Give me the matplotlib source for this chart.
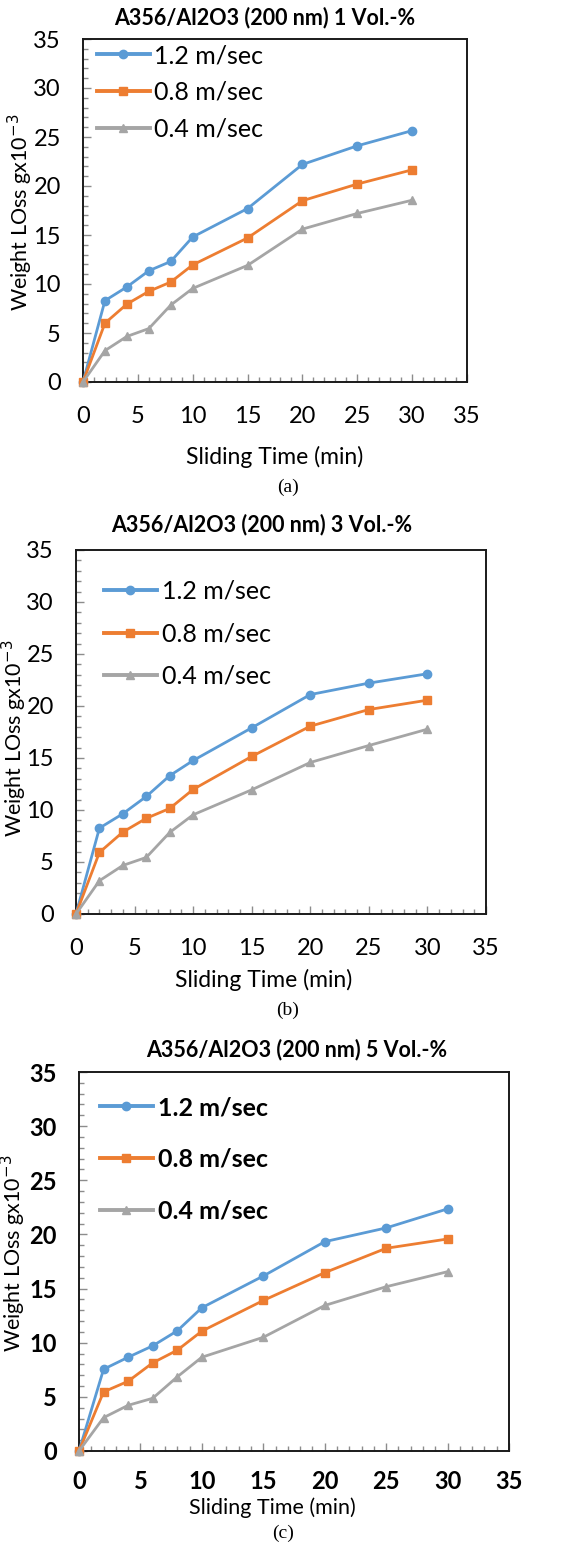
import matplotlib
matplotlib.use("Agg")
import matplotlib.pyplot as plt
from matplotlib.ticker import MultipleLocator

plt.rcParams['font.family'] = ['Lato', 'DejaVu Sans']

time_min = [0, 2, 4, 6, 8, 10, 15, 20, 25, 30]
speeds = ["1.2 m/sec", "0.8 m/sec", "0.4 m/sec"]

# Panel (a) 1 Vol.-%
a_12 = [0, 8.3, 9.7, 11.35, 12.3, 14.8, 17.7, 22.2, 24.1, 25.65]
a_08 = [0, 6.0, 7.95, 9.25, 10.2, 11.95, 14.7, 18.5, 20.2, 21.65]
a_04 = [0, 3.2, 4.65, 5.45, 7.85, 9.55, 11.9, 15.6, 17.2, 18.55]

# Panel (b) 3 Vol.-%
b_12 = [0, 8.26, 9.64, 11.3, 13.3, 14.76, 17.9, 21.1, 22.2, 23.1]
b_08 = [0, 5.92, 7.88, 9.2, 10.15, 11.98, 15.15, 18.06, 19.66, 20.56]
b_04 = [0, 3.2, 4.67, 5.44, 7.84, 9.54, 11.94, 14.57, 16.2, 17.77]

# Panel (c) 5 Vol.-%
c_12 = [0, 7.55, 8.66, 9.71, 11.1, 13.23, 16.16, 19.33, 20.6, 22.36]
c_08 = [0, 5.46, 6.44, 8.14, 9.31, 11.07, 13.9, 16.47, 18.72, 19.58]
c_04 = [0, 3.08, 4.22, 4.87, 6.85, 8.66, 10.5, 13.44, 15.17, 16.56]

titles = ["A356/Al2O3 (200 nm) 1 Vol.-%",
          "A356/Al2O3 (200 nm) 3 Vol.-%",
          "A356/Al2O3 (200 nm) 5 Vol.-%"]
sublabels = ["(a)", "(b)", "(c)"]

colors = ["#5B9BD5", "#ED7D31", "#A5A5A5"]
markers = ["o", "s", "^"]

W, H = 566, 1544
fig = plt.figure(figsize=(W / 100, H / 100), dpi=100)

def px_axes(l, t, r, b):
    return fig.add_axes([l / W, 1 - b / H, (r - l) / W, (b - t) / H])

def ftxt(x, y, s, **kw):
    fig.text(x / W, 1 - y / H, s, ha='center', va='center', **kw)

panels = [
    dict(box=(83, 39, 467, 382), data=(a_12, a_08, a_04), title=(265, 18),
         xlab=(275, 457), xls=16.5, xpad=17, ylab=(20, 212), sub=(288, 487),
         leg=(97, 44), lsp=0.55, bold=False),
    dict(box=(76, 550, 486, 914), data=(b_12, b_08, b_04), title=(262, 525),
         xlab=(264, 980), xls=16.5, xpad=17, ylab=(14, 738), sub=(288, 1010),
         leg=(104, 580), lsp=0.78, bold=False),
    dict(box=(79, 1072, 509, 1451), data=(c_12, c_08, c_04), title=(297, 1050),
         xlab=(272, 1508), xls=15.5, xpad=14, ylab=(13, 1253), sub=(283, 1533),
         leg=(100, 1096), lsp=1.15, bold=True),
]

for i, p in enumerate(panels):
    l, t, r, b = p['box']
    ax = px_axes(l, t, r, b)
    for series, lab, col, mk in zip(p['data'], speeds, colors, markers):
        ax.plot(time_min, series, color=col, marker=mk, markersize=6,
                linewidth=2.0, label=lab, clip_on=False, zorder=3)
    ax.set_xlim(0, 35)
    ax.set_ylim(0, 35)
    ax.xaxis.set_major_locator(MultipleLocator(5))
    ax.yaxis.set_major_locator(MultipleLocator(5))
    ax.xaxis.set_minor_locator(MultipleLocator(1))
    ax.yaxis.set_minor_locator(MultipleLocator(1))
    tw = 'bold' if p['bold'] else 'normal'
    ax.tick_params(which='major', direction='in', length=6, width=1.0, color='#8c8c8c',
                   labelsize=17, top=False, right=False)
    ax.tick_params(which='minor', direction='in', length=3.5, width=1.0, color='#8c8c8c',
                   top=False, right=False)
    ax.tick_params(axis='x', which='major', pad=p['xpad'])
    ax.tick_params(axis='y', which='major', pad=16)
    for lbl in ax.get_xticklabels() + ax.get_yticklabels():
        lbl.set_fontweight(tw)
    for sp in ax.spines.values():
        sp.set_color('#1a1a1a')
        sp.set_linewidth(1.4)
    lx, ly = p['leg']
    leg = ax.legend(loc='upper left',
                    bbox_to_anchor=((lx - l) / (r - l), 1 - (ly - t) / (b - t)),
                    frameon=False, handlelength=2.1, handletextpad=0.2,
                    borderpad=0, borderaxespad=0, labelspacing=p['lsp'],
                    prop=dict(size=18, weight=tw))
    for h in leg.get_lines():
        h.set_linewidth(2.8)
    ftxt(*p['title'], titles[i], fontsize=15.5, fontweight='bold')
    ftxt(*p['xlab'], "Sliding Time (min)", fontsize=p['xls'])
    ftxt(*p['ylab'], "Weight LOss gx10$^{-3}$", fontsize=15.5, rotation=90)
    ftxt(*p['sub'], sublabels[i], fontsize=14, family='Liberation Serif')

fig.savefig("out.png", dpi=100)
